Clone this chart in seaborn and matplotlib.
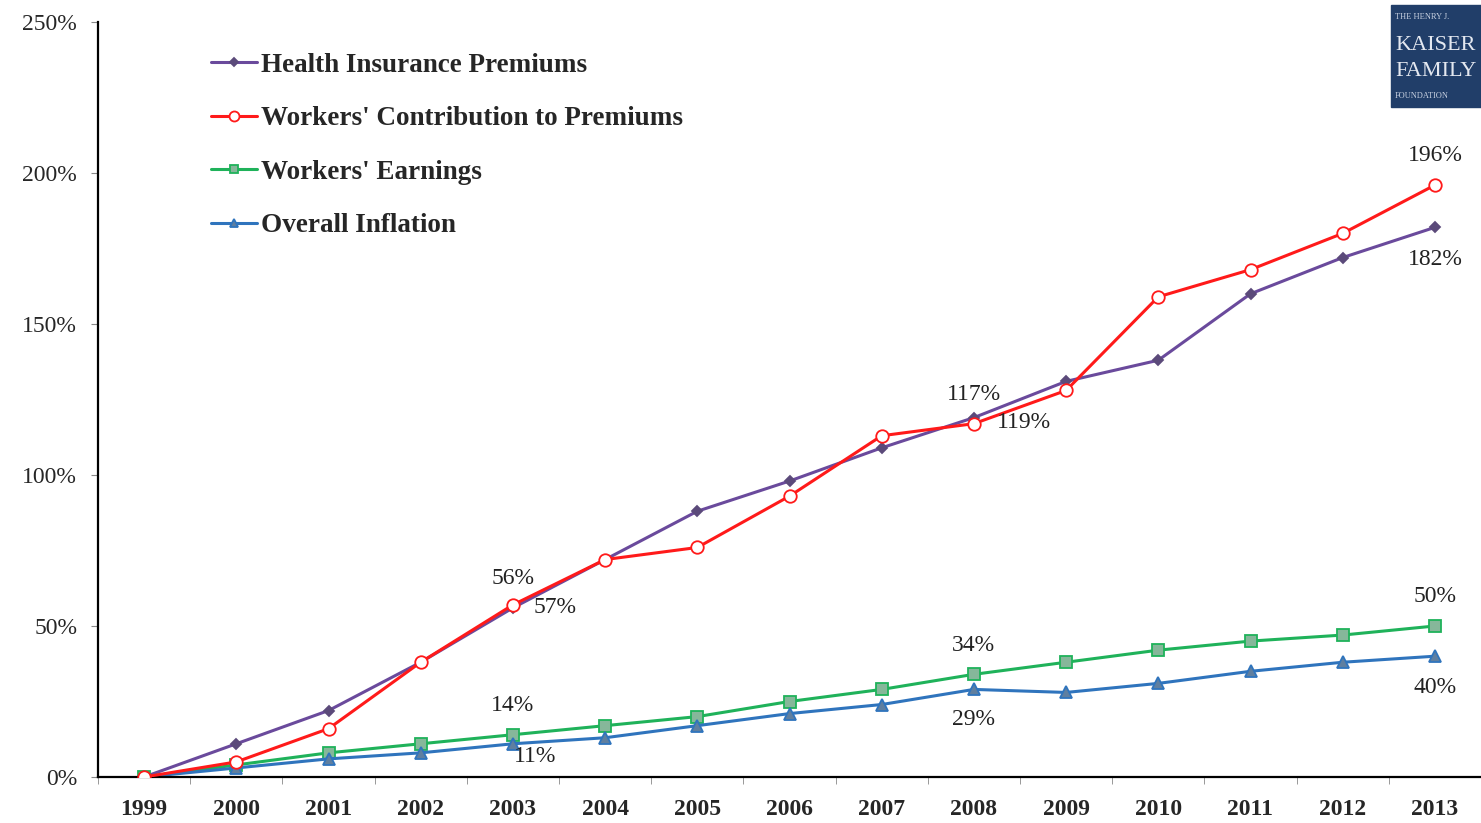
import numpy as np
import pandas as pd
import matplotlib
matplotlib.use("Agg")
import matplotlib.pyplot as plt
import seaborn as sns
from matplotlib.patches import Rectangle

# 누적 증가율 (1999 대비, %)
years = ["1999", "2000", "2001", "2002", "2003", "2004", "2005", "2006",
         "2007", "2008", "2009", "2010", "2011", "2012", "2013"]
health = [0, 11, 22, 38, 56, 72, 88, 98, 109, 119, 131, 138, 160, 172, 182]
contrib = [0, 5, 16, 38, 57, 72, 76, 93, 113, 117, 128, 159, 168, 180, 196]
earnings = [0, 4, 8, 11, 14, 17, 20, 25, 29, 34, 38, 42, 45, 47, 50]
inflation = [0, 3, 6, 8, 11, 13, 17, 21, 24, 29, 28, 31, 35, 38, 40]

series_names = ["Health Insurance Premiums", "Workers' Contribution to Premiums",
                "Workers' Earnings", "Overall Inflation"]
series_vals = [health, contrib, earnings, inflation]
colors = ["#6a4a9c", "#ff1a1a", "#1fb25a", "#2f74bd"]
markers = ["D", "o", "s", "^"]
msizes = [5, 9, 8, 8]
mfaces = ["#5b4a7a", "white", "#86b79a", "#5f7fa0"]

# 라벨 (연도 인덱스, 값, 텍스트, x/y 오프셋 px)
labels = [
    (4, 56, "56%", (0, 29)), (4, 56, "57%", (42, 0)),
    (9, 118, "117%", (0, 26)), (9, 118, "119%", (50, -2)),
    (14, 196, "196%", (0, 30)), (14, 182, "182%", (0, -32)),
    (4, 14, "14%", (0, 29)), (4, 11, "11%", (22, -13)),
    (9, 34, "34%", (0, 29)), (9, 29, "29%", (0, -30)),
    (14, 50, "50%", (0, 29)), (14, 40, "40%", (0, -31)),
]

sns.set_style("ticks")
plt.rcParams['font.family'] = ['Liberation Serif', 'DejaVu Serif']

fig = plt.figure(figsize=(14.81, 8.23), dpi=100)
ax = fig.add_axes([98/1481, 1-777/823, 1-98/1481, 755/823])

x = np.arange(len(years))
for name, vals, c, m, ms, mf in zip(series_names, series_vals, colors, markers, msizes, mfaces):
    df = pd.DataFrame({"x": x, "y": vals})
    sns.lineplot(data=df, x="x", y="y", ax=ax, color=c, linewidth=2.2,
                 marker=m, markersize=ms, markerfacecolor=mf,
                 markeredgecolor=c if m != "D" else mf, markeredgewidth=1.3,
                 label=name)

# 빨간선을 보라선 위로
ax.lines[1].set_zorder(3)

for xi, yv, txt, off in labels:
    ax.annotate(txt, xy=(xi, yv), xytext=off, textcoords="offset pixels",
                ha="center", va="center", fontsize=17, color="#222222")

ax.set_xlim(-0.5, 14.47)
ax.set_ylim(0, 250)
ax.set_xticks(x)
ax.set_xticklabels(years, fontweight="bold", fontsize=17)
ax.set_xticks(np.arange(-0.5, 14.6, 1), minor=True)
ax.tick_params(axis="x", which="major", length=0, pad=16)
ax.tick_params(axis="x", which="minor", length=5, color="#888888")
ax.set_yticks([0, 50, 100, 150, 200, 250])
ax.set_yticklabels([f"{v}%" for v in [0, 50, 100, 150, 200, 250]], fontsize=17)
ax.tick_params(axis="y", length=5, color="#888888", pad=10)
ax.set_xlabel("")
ax.set_ylabel("")
sns.despine(ax=ax)
for s in ["left", "bottom"]:
    ax.spines[s].set_color("black")
    ax.spines[s].set_linewidth(1.6)

leg = ax.legend(loc="upper left", bbox_to_anchor=(0.072, 0.977), frameon=False,
                prop={"weight": "bold", "size": 19.5}, handlelength=1.7,
                handletextpad=0.15, labelspacing=1.05, borderpad=0)
for h in leg.legend_handles:
    h.set_markersize(h.get_markersize() * 0.8)

# 로고
fig.patches.append(Rectangle((1391/1481, 1-107/823), 0.07, 102/823,
                             transform=fig.transFigure, color="#213e69"))
fig.text(1395/1481, 1-17/823, "THE HENRY J.", fontsize=6, color="#c9d2e2", va="center")
fig.text(1395/1481, 1-45/823, "KAISER", fontsize=16, color="#e4e8f0", va="center")
fig.text(1395/1481, 1-72/823, "FAMILY", fontsize=16, color="#e4e8f0", va="center")
fig.text(1395/1481, 1-96/823, "FOUNDATION", fontsize=6, color="#c9d2e2", va="center")

fig.savefig("out.png", dpi=100, facecolor="white")
